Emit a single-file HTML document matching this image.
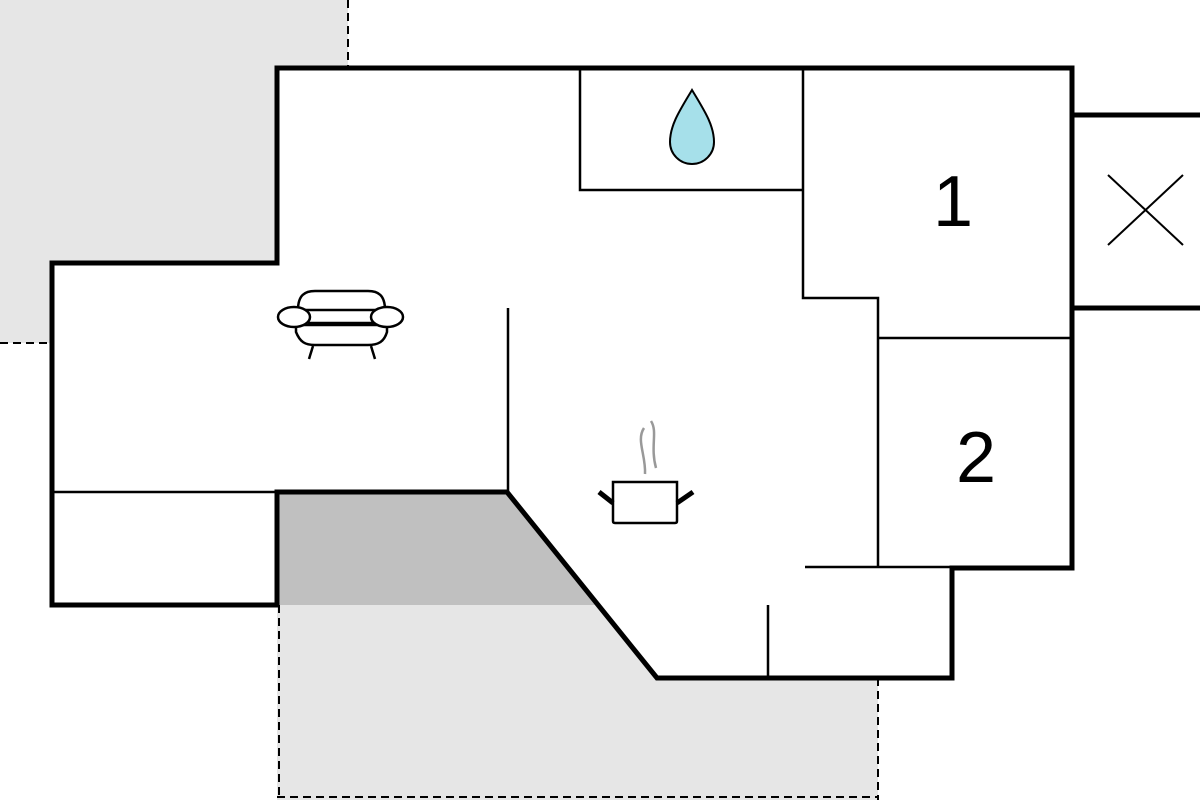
<!DOCTYPE html>
<html><head><style>html,body{margin:0;padding:0;background:#fff}svg{display:block}</style></head><body>
<svg width="1200" height="800" viewBox="0 0 1200 800" xmlns="http://www.w3.org/2000/svg">
<rect x="0" y="0" width="348" height="343" fill="#e6e6e6"/>
<polygon points="277,605 595,605 657,678 878,678 878,800 277,800" fill="#e6e6e6"/>
<g stroke="#000" stroke-width="2" stroke-dasharray="8,5" fill="none">
<line x1="348" y1="0" x2="348" y2="66"/>
<line x1="0" y1="343" x2="50" y2="343"/>
<line x1="279" y1="605" x2="279" y2="800"/>
<line x1="277" y1="797" x2="878" y2="797"/>
<line x1="878" y1="678" x2="878" y2="800"/>
</g>
<polygon points="277,68 1072,68 1072,568 952,568 952,678 657,678 507,492 277,492 277,605 52,605 52,263 277,263" fill="#fff"/>
<polygon points="277,492 507,492 595,605 277,605" fill="#c0c0c0"/>
<g stroke="#000" stroke-width="2.5" fill="none">
<polyline points="580,68 580,190 803,190"/>
<polyline points="803,68 803,298 878,298 878,568"/>
<line x1="878" y1="338" x2="1072" y2="338"/>
<line x1="805" y1="567" x2="952" y2="567"/>
<line x1="768" y1="605" x2="768" y2="678"/>
<line x1="508" y1="308" x2="508" y2="492"/>
<line x1="52" y1="492" x2="277" y2="492"/>
</g>
<g stroke="#000" stroke-width="5" fill="none" stroke-linejoin="miter">
<polygon points="277,68 1072,68 1072,568 952,568 952,678 657,678 507,492 277,492 277,605 52,605 52,263 277,263"/>
<polyline points="1072,115 1200,115"/>
<polyline points="1072,308 1200,308"/>
</g>
<g stroke="#000" stroke-width="2" fill="none">
<line x1="1108" y1="175" x2="1183" y2="245"/>
<line x1="1183" y1="175" x2="1108" y2="245"/>
</g>
<text x="953" y="226" font-family="Liberation Sans, sans-serif" font-size="72" text-anchor="middle">1</text>
<text x="976" y="482" font-family="Liberation Sans, sans-serif" font-size="72" text-anchor="middle">2</text>
<path d="M692,90 C680,110 670,125 670,142 A22,22 0 0 0 714,142 C714,125 704,110 692,90 Z" fill="#a6e0ea" stroke="#000" stroke-width="2"/>
<g stroke="#000" stroke-width="2.5" fill="#fff">
<path d="M298,310 C298,295 305,291 315,291 L368,291 C378,291 385,295 385,310 Z"/>
<path d="M296,325 L296,332 C300,342 305,345 315,345 L368,345 C378,345 384,342 387,332 L387,325 Z"/>
<line x1="308" y1="323" x2="375" y2="323"/>
<ellipse cx="294" cy="317" rx="16" ry="10"/>
<ellipse cx="387" cy="317" rx="16" ry="10"/>
<line x1="313" y1="346" x2="309" y2="359"/>
<line x1="371" y1="346" x2="375" y2="359"/>
</g>
<g stroke="#000" stroke-width="2.5" fill="#fff">
<path d="M613,482 L677,482 L677,521 Q677,523 675,523 L615,523 Q613,523 613,521 Z"/>
</g>
<g stroke="#000" stroke-width="5">
<line x1="599" y1="492" x2="613" y2="503"/>
<line x1="677" y1="503" x2="693" y2="492"/>
</g>
<g stroke="#999" stroke-width="2.5" fill="none">
<path d="M644,428 C636,440 646,455 645,474"/>
<path d="M651,421 C658,432 650,446 656,468"/>
</g>
</svg>
</body></html>
